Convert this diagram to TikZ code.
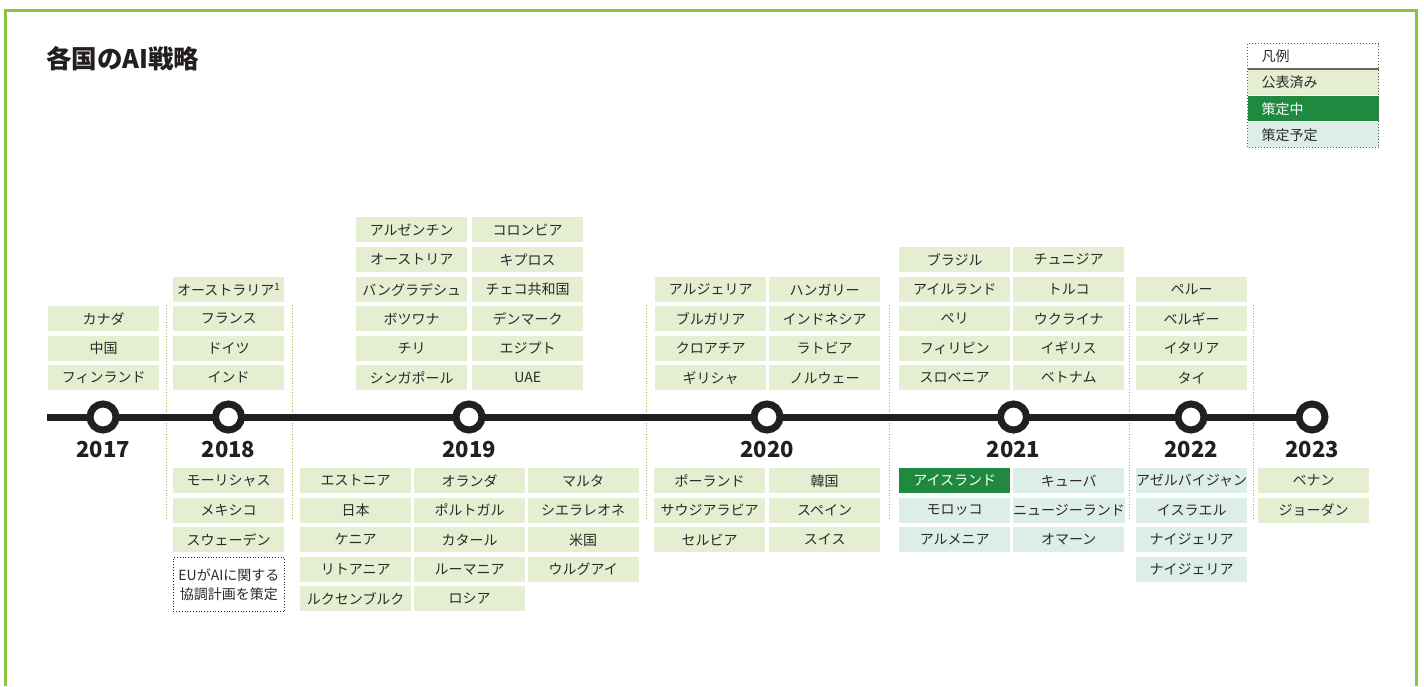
\documentclass[tikz,border=0pt]{standalone}
\usepackage{fontspec}
\setmainfont{Noto Sans CJK JP}
\definecolor{lgreen}{HTML}{E5EED0}
\definecolor{dgreen}{HTML}{1F8A3F}
\definecolor{lteal}{HTML}{DDEEE7}
\definecolor{framegreen}{HTML}{8CC43F}
\definecolor{inkc}{HTML}{2B2B2B}
\definecolor{tline}{HTML}{231F20}
\newcommand\mkcell[5][cellA]{\node[#1] (#2) at (#3,#4) {#5};}
\begin{document}
\begin{tikzpicture}[x=1pt,y=-1pt,
  cellbase/.style={anchor=north west, minimum width=111pt, minimum height=25pt, inner sep=0pt,
     font=\fontsize{14}{16}\selectfont, text=inkc},
  cellA/.style={cellbase, fill=lgreen},
  cellB/.style={cellbase, fill=dgreen, text=white},
  cellC/.style={cellbase, fill=lteal},
  yearring/.style={circle, draw=tline, line width=7pt, fill=white, minimum size=26pt, inner sep=0pt},
  yearlab/.style={anchor=base, font=\fontsize{22}{26}\selectfont\bfseries, text=tline},
  timeline/.style={draw=tline, line width=7pt},
  sepline/.style={draw=framegreen, dotted, line width=0.8pt},
  frameline/.style={draw=framegreen, line width=3pt},
  legrow/.style={anchor=north west, minimum width=131pt, minimum height=25pt, inner sep=0pt,
     text width=103pt, align=left, font=\fontsize{14}{16}\selectfont, text=inkc},
]
\useasboundingbox (0,0) rectangle (1424,686);
\fill[white] (0,0) rectangle (1424,686);

% frame (open at bottom)
\coordinate (fa) at (5,686);
\coordinate (fb) at (5,10);
\coordinate (fc) at (1416,10);
\coordinate (fd) at (1416,686);
\draw[frameline] (fa) -- (fb) -- (fc) -- (fd);

% title
\node[anchor=base west, font=\fontsize{25.5}{28}\selectfont\bfseries, text=tline, inner sep=0pt] (title) at (46,68) {各国のAI戦略};

% legend
\node[legrow, fill=white] (lg0) at (1247.5,43.5) {凡例};
\node[legrow, fill=lgreen] (lg1) at (1247.5,70) {公表済み};
\node[legrow, fill=dgreen, text=white] (lg2) at (1247.5,96) {策定中};
\node[legrow, fill=lteal] (lg3) at (1247.5,122) {策定予定};
\draw[draw=gray!80!black, line width=1.6pt] (lg0.south west) -- (lg0.south east);
\draw[draw=gray!70!black, dotted, line width=1pt] (lg0.north west) rectangle (lg3.south east);

% separators
\foreach \sx [count=\i] in {166,292,646,889,1129,1253}{
  \coordinate (st\i) at (\sx,305);
  \coordinate (sb\i) at (\sx,520);
  \draw[sepline] (st\i) -- (sb\i);
}

% timeline
\coordinate (tl0) at (47,417);
\coordinate (p2017) at (103,417);
\coordinate (p2018) at (228.5,417);
\coordinate (p2019) at (469,417);
\coordinate (p2020) at (767,417);
\coordinate (p2021) at (1013.5,417);
\coordinate (p2022) at (1191,417);
\coordinate (p2023) at (1312,417);
\draw[timeline] (tl0) -- (p2023);
\foreach \yr in {2017,2018,2019,2020,2021,2022,2023}{
  \node[yearring] (y\yr) at (p\yr) {};
}
\node[yearlab] (t2017) at (103,457) {2017};
\node[yearlab] (t2018) at (228.5,457) {2018};
\node[yearlab] (t2019) at (469,457) {2019};
\node[yearlab] (t2020) at (767,457) {2020};
\node[yearlab] (t2021) at (1013.5,457) {2021};
\node[yearlab] (t2022) at (1191,457) {2022};
\node[yearlab] (t2023) at (1312,457) {2023};

% 2017
\mkcell{a1}{48}{306}{カナダ}
\mkcell{a2}{48}{335.5}{中国}
\mkcell{a3}{48}{365}{フィンランド}

% 2018
\mkcell{b1}{173}{277}{オーストラリア\textsuperscript{1}}
\mkcell{b2}{173}{306}{フランス}
\mkcell{b3}{173}{335.5}{ドイツ}
\mkcell{b4}{173}{365}{インド}
\mkcell{b5}{173}{468}{モーリシャス}
\mkcell{b6}{173}{497.5}{メキシコ}
\mkcell{b7}{173}{527}{スウェーデン}
\node[anchor=north west, minimum width=111pt, minimum height=54pt, inner sep=0pt,
  draw=inkc, dotted, line width=0.8pt, align=center,
  font=\fontsize{14}{19}\selectfont, text=inkc] (eu) at (173,557) {EUがAIに関する\\協調計画を策定};

% 2019 upper
\mkcell{c1}{356}{217}{アルゼンチン}
\mkcell{c2}{356}{247}{オーストリア}
\mkcell{c3}{356}{277}{バングラデシュ}
\mkcell{c4}{356}{306}{ボツワナ}
\mkcell{c5}{356}{335.5}{チリ}
\mkcell{c6}{356}{365}{シンガポール}
\mkcell{c7}{472}{217}{コロンビア}
\mkcell{c8}{472}{247}{キプロス}
\mkcell{c9}{472}{277}{チェコ共和国}
\mkcell{c10}{472}{306}{デンマーク}
\mkcell{c11}{472}{335.5}{エジプト}
\mkcell{c12}{472}{365}{UAE}
% 2019 lower
\mkcell{d1}{300}{468}{エストニア}
\mkcell{d2}{300}{497.5}{日本}
\mkcell{d3}{300}{527}{ケニア}
\mkcell{d4}{300}{556.5}{リトアニア}
\mkcell{d5}{300}{586}{ルクセンブルク}
\mkcell{d6}{414}{468}{オランダ}
\mkcell{d7}{414}{497.5}{ポルトガル}
\mkcell{d8}{414}{527}{カタール}
\mkcell{d9}{414}{556.5}{ルーマニア}
\mkcell{d10}{414}{586}{ロシア}
\mkcell{d11}{527.5}{468}{マルタ}
\mkcell{d12}{527.5}{497.5}{シエラレオネ}
\mkcell{d13}{527.5}{527}{米国}
\mkcell{d14}{527.5}{556.5}{ウルグアイ}

% 2020
\mkcell{e1}{655}{277}{アルジェリア}
\mkcell{e2}{655}{306}{ブルガリア}
\mkcell{e3}{655}{335.5}{クロアチア}
\mkcell{e4}{655}{365}{ギリシャ}
\mkcell{e5}{769}{277}{ハンガリー}
\mkcell{e6}{769}{306}{インドネシア}
\mkcell{e7}{769}{335.5}{ラトビア}
\mkcell{e8}{769}{365}{ノルウェー}
\mkcell{f1}{654}{468}{ポーランド}
\mkcell{f2}{654}{497.5}{サウジアラビア}
\mkcell{f3}{654}{527}{セルビア}
\mkcell{f4}{769}{468}{韓国}
\mkcell{f5}{769}{497.5}{スペイン}
\mkcell{f6}{769}{527}{スイス}

% 2021
\mkcell{g1}{899}{247}{ブラジル}
\mkcell{g2}{899}{277}{アイルランド}
\mkcell{g3}{899}{306}{ペリ}
\mkcell{g4}{899}{335.5}{フィリピン}
\mkcell{g5}{899}{365}{スロベニア}
\mkcell{g6}{1013}{247}{チュニジア}
\mkcell{g7}{1013}{277}{トルコ}
\mkcell{g8}{1013}{306}{ウクライナ}
\mkcell{g9}{1013}{335.5}{イギリス}
\mkcell{g10}{1013}{365}{ベトナム}
\mkcell[cellB]{h1}{899}{468}{アイスランド}
\mkcell[cellC]{h2}{899}{497.5}{モロッコ}
\mkcell[cellC]{h3}{899}{527}{アルメニア}
\mkcell[cellC]{h4}{1013}{468}{キューバ}
\mkcell[cellC]{h5}{1013}{497.5}{ニュージーランド}
\mkcell[cellC]{h6}{1013}{527}{オマーン}

% 2022
\mkcell{i1}{1136}{277}{ペルー}
\mkcell{i2}{1136}{306}{ベルギー}
\mkcell{i3}{1136}{335.5}{イタリア}
\mkcell{i4}{1136}{365}{タイ}
\mkcell[cellC]{j1}{1136}{468}{アゼルバイジャン}
\mkcell[cellC]{j2}{1136}{497.5}{イスラエル}
\mkcell[cellC]{j3}{1136}{527}{ナイジェリア}
\mkcell[cellC]{j4}{1136}{556.5}{ナイジェリア}

% 2023
\mkcell{k1}{1258}{468}{ベナン}
\mkcell{k2}{1258}{497.5}{ジョーダン}
\end{tikzpicture}
\end{document}
